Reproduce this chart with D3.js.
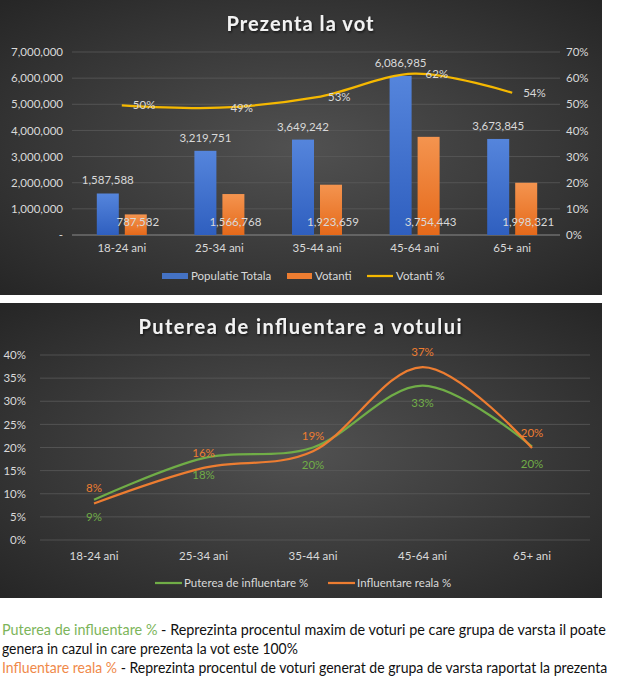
<!DOCTYPE html>
<html>
<head>
<meta charset="utf-8">
<script src="https://cdn.jsdelivr.net/npm/d3@7"></script>
<style>
  body { margin: 0; background: #fff; overflow: hidden; }
  svg { display: block; }
  svg text { font-family: Lato, "Open Sans", sans-serif; }
</style>
</head>
<body>
<div id="chart"></div>
<script>
// Date
const categories = ['18-24 ani', '25-34 ani', '35-44 ani', '45-64 ani', '65+ ani'];
const populatie = [1587588, 3219751, 3649242, 6086985, 3673845];
const votanti = [787582, 1566768, 1923659, 3754443, 1998321];
const votantiPct = [0.496, 0.487, 0.527, 0.617, 0.544];
const putereaPct = [0.087, 0.177, 0.200, 0.334, 0.202];
const realaPct = [0.079, 0.156, 0.192, 0.374, 0.199];
const leftTicks = [0, 1e6, 2e6, 3e6, 4e6, 5e6, 6e6, 7e6];
const rightTicks = [0, 0.1, 0.2, 0.3, 0.4, 0.5, 0.6, 0.7];
const bottomTicks = [0, 0.05, 0.1, 0.15, 0.2, 0.25, 0.3, 0.35, 0.4];

const W = 617, H = 683;
const svg = d3.select('#chart').append('svg')
    .attr('width', W)
    .attr('height', H);

const defs = svg.append('defs');

// Fundal inchis, mai luminos in centru
const bg = defs.append('radialGradient').attr('id', 'panel-bg')
    .attr('cx', '50%').attr('cy', '50%').attr('r', '70%');
bg.append('stop').attr('offset', '0%').attr('stop-color', '#515151');
bg.append('stop').attr('offset', '100%').attr('stop-color', '#262626');

// umbra discreta pentru titluri
const shadow = defs.append('filter').attr('id', 'title-shadow');
shadow.append('feDropShadow').attr('dx', 1).attr('dy', 1.5)
    .attr('stdDeviation', 1).attr('flood-color', '#000').attr('flood-opacity', 0.6);

function barGradient(id, c1, c2) {
  const g = defs.append('linearGradient').attr('id', id)
      .attr('x1', 0).attr('y1', 0).attr('x2', 0).attr('y2', 1);
  g.append('stop').attr('offset', '0%').attr('stop-color', c1);
  g.append('stop').attr('offset', '100%').attr('stop-color', c2);
}
barGradient('blue-grad', '#5585dc', '#2f5fbf');
barGradient('orange-grad', '#f4944f', '#e5691a');

const txtColor = '#d9d9d9';
const gridColor = '#5c5c5c';

// ---------------- Grafic 1: Prezenta la vot ----------------
const chart1 = svg.append('g');
chart1.append('rect')
    .attr('x', 0).attr('y', 0).attr('width', 602).attr('height', 295)
    .attr('fill', 'url(#panel-bg)');

chart1.append('text')
    .attr('x', 300).attr('y', 31)
    .attr('text-anchor', 'middle')
    .attr('font-size', 20).attr('font-weight', 'bold')
    .attr('fill', '#f2f2f2')
    .attr('filter', 'url(#title-shadow)')
    .attr('textLength', 147).attr('lengthAdjust', 'spacing')
    .text('Prezenta la vot');

const x = d3.scaleBand().domain(categories).range([73, 561]);
const y = d3.scaleLinear().domain([0, 7e6]).range([235, 52]);
const y2 = d3.scaleLinear().domain([0, 0.7]).range([235, 52]);

chart1.selectAll('.grid')
    .data(leftTicks)
  .join('line')
    .attr('class', 'grid')
    .attr('x1', 72).attr('x2', 560)
    .attr('y1', d => y(d)).attr('y2', d => y(d))
    .attr('stroke', d => d === 0 ? '#8a8a8a' : gridColor)
    .attr('stroke-width', d => d === 0 ? 1 : 0.75);

const yAxis = chart1.append('g')
    .attr('transform', 'translate(66,0)')
    .call(d3.axisLeft(y).tickValues(leftTicks).tickSize(0)
      .tickFormat(d => d === 0 ? '-' : d3.format(',')(d)));
yAxis.select('.domain').remove();
yAxis.selectAll('text').attr('fill', txtColor).attr('font-size', 11.5)
    .attr('font-family', 'Lato, sans-serif');

const y2Axis = chart1.append('g')
    .attr('transform', 'translate(563,0)')
    .call(d3.axisRight(y2).tickValues(rightTicks).tickSize(0)
      .tickFormat(d3.format('.0%')));
y2Axis.select('.domain').remove();
y2Axis.selectAll('text').attr('fill', txtColor).attr('font-size', 11.5)
    .attr('font-family', 'Lato, sans-serif');

const xAxis = chart1.append('g')
    .attr('transform', 'translate(0,241)')
    .call(d3.axisBottom(x).tickSize(0));
xAxis.select('.domain').remove();
xAxis.selectAll('text').attr('fill', txtColor).attr('font-size', 11.5)
    .attr('font-family', 'Lato, sans-serif');

const barW = 22, gap = 3;
const mid = c => x(c) + x.bandwidth() / 2;

chart1.selectAll('.bar-pop')
    .data(categories)
  .join('rect')
    .attr('class', 'bar-pop')
    .attr('x', c => mid(c) - gap - barW)
    .attr('width', barW)
    .attr('y', (c, i) => y(populatie[i]))
    .attr('height', (c, i) => y(0) - y(populatie[i]))
    .attr('fill', 'url(#blue-grad)');

chart1.selectAll('.bar-vot')
    .data(categories)
  .join('rect')
    .attr('class', 'bar-vot')
    .attr('x', c => mid(c) + gap)
    .attr('width', barW)
    .attr('y', (c, i) => y(votanti[i]))
    .attr('height', (c, i) => y(0) - y(votanti[i]))
    .attr('fill', 'url(#orange-grad)');

const fmtNum = d3.format(',');
chart1.selectAll('.lbl-pop')
    .data(categories)
  .join('text')
    .attr('class', 'lbl-pop')
    .attr('x', c => mid(c) - gap - barW / 2)
    .attr('y', (c, i) => y(populatie[i]) - 9)
    .attr('text-anchor', 'middle')
    .attr('font-size', 11.5).attr('fill', txtColor)
    .text((c, i) => fmtNum(populatie[i]));

chart1.selectAll('.lbl-vot')
    .data(categories)
  .join('text')
    .attr('class', 'lbl-vot')
    .attr('x', c => mid(c) + gap + barW / 2 + 2)
    .attr('y', 226)
    .attr('text-anchor', 'middle')
    .attr('font-size', 11.5).attr('fill', txtColor)
    .text((c, i) => fmtNum(votanti[i]));

const pctLine = d3.line()
    .x((d, i) => mid(categories[i]))
    .y(d => y2(d))
    .curve(d3.curveCardinal.tension(0));

chart1.append('path')
    .attr('d', pctLine(votantiPct))
    .attr('fill', 'none')
    .attr('stroke', '#f5b800')
    .attr('stroke-width', 2.25);

chart1.selectAll('.lbl-pct')
    .data(votantiPct)
  .join('text')
    .attr('class', 'lbl-pct')
    .attr('x', (d, i) => mid(categories[i]) + 11)
    .attr('y', d => y2(d) + 4)
    .attr('font-size', 11.5).attr('fill', txtColor)
    .text(d => d3.format('.0%')(d));

// legenda grafic 1
const lg1 = chart1.append('g').attr('font-size', 11.5).attr('fill', txtColor);
lg1.append('rect').attr('x', 162).attr('y', 273).attr('width', 26).attr('height', 6)
    .attr('fill', '#4472c4');
lg1.append('text').attr('x', 191).attr('y', 280).attr('fill', txtColor).text('Populatie Totala');
lg1.append('rect').attr('x', 287).attr('y', 273).attr('width', 25).attr('height', 6)
    .attr('fill', '#ed7d31');
lg1.append('text').attr('x', 315).attr('y', 280).attr('fill', txtColor).text('Votanti');
lg1.append('line').attr('x1', 367).attr('x2', 393).attr('y1', 276).attr('y2', 276)
    .attr('stroke', '#f5b800').attr('stroke-width', 2.25);
lg1.append('text').attr('x', 396).attr('y', 280).attr('fill', txtColor).text('Votanti %');

// ---------------- Grafic 2: Puterea de influentare ----------------
const chart2 = svg.append('g');
chart2.append('rect')
    .attr('x', 0).attr('y', 303).attr('width', 602).attr('height', 295)
    .attr('fill', 'url(#panel-bg)');

chart2.append('text')
    .attr('x', 300).attr('y', 334)
    .attr('text-anchor', 'middle')
    .attr('font-size', 20).attr('font-weight', 'bold')
    .attr('fill', '#f2f2f2')
    .attr('filter', 'url(#title-shadow)')
    .attr('textLength', 323).attr('lengthAdjust', 'spacing')
    .text('Puterea de influentare a votului');

const xb = d3.scaleBand().domain(categories).range([39.25, 586.75]);
const yb = d3.scaleLinear().domain([0, 0.4]).range([540, 355]);
const midb = c => xb(c) + xb.bandwidth() / 2;

chart2.selectAll('.grid')
    .data(bottomTicks)
  .join('line')
    .attr('class', 'grid')
    .attr('x1', 40).attr('x2', 590)
    .attr('y1', d => yb(d)).attr('y2', d => yb(d))
    .attr('stroke', gridColor)
    .attr('stroke-width', 0.75);

const ybAxis = chart2.append('g')
    .attr('transform', 'translate(29,0)')
    .call(d3.axisLeft(yb).tickValues(bottomTicks).tickSize(0)
      .tickFormat(d3.format('.0%')));
ybAxis.select('.domain').remove();
ybAxis.selectAll('text').attr('fill', txtColor).attr('font-size', 11.5)
    .attr('font-family', 'Lato, sans-serif');

const xbAxis = chart2.append('g')
    .attr('transform', 'translate(0,549)')
    .call(d3.axisBottom(xb).tickSize(0));
xbAxis.select('.domain').remove();
xbAxis.selectAll('text').attr('fill', txtColor).attr('font-size', 11.5)
    .attr('font-family', 'Lato, sans-serif');

const lineB = d3.line()
    .x((d, i) => midb(categories[i]))
    .y(d => yb(d))
    .curve(d3.curveCardinal.tension(0));

const green = '#70ad47', orange = '#ed7d31';

chart2.append('path')
    .attr('d', lineB(putereaPct))
    .attr('fill', 'none').attr('stroke', green).attr('stroke-width', 2.25);
chart2.append('path')
    .attr('d', lineB(realaPct))
    .attr('fill', 'none').attr('stroke', orange).attr('stroke-width', 2.25);

chart2.selectAll('.lbl-g')
    .data(putereaPct)
  .join('text')
    .attr('class', 'lbl-g')
    .attr('x', (d, i) => midb(categories[i]))
    .attr('y', d => yb(d) + 21)
    .attr('text-anchor', 'middle')
    .attr('font-size', 11.5).attr('fill', green)
    .text(d => d3.format('.0%')(d));

chart2.selectAll('.lbl-o')
    .data(realaPct)
  .join('text')
    .attr('class', 'lbl-o')
    .attr('x', (d, i) => midb(categories[i]))
    .attr('y', d => yb(d) - 11)
    .attr('text-anchor', 'middle')
    .attr('font-size', 11.5).attr('fill', orange)
    .text(d => d3.format('.0%')(d));

// legenda grafic 2
const lg2 = chart2.append('g').attr('font-size', 11.5);
lg2.append('line').attr('x1', 155).attr('x2', 182).attr('y1', 583).attr('y2', 583)
    .attr('stroke', green).attr('stroke-width', 2.25);
lg2.append('text').attr('x', 184).attr('y', 587).attr('fill', txtColor)
    .text('Puterea de influentare %');
lg2.append('line').attr('x1', 328).attr('x2', 355).attr('y1', 583).attr('y2', 583)
    .attr('stroke', orange).attr('stroke-width', 2.25);
lg2.append('text').attr('x', 357).attr('y', 587).attr('fill', txtColor)
    .text('Influentare reala %');

// ---------------- Note explicative ----------------
// fontul original e ingust (Calibri), asa ca fiecare rand e comprimat pe orizontala
const notes = svg.append('g').attr('font-size', 14.5);

function noteLine(yPos, width, parts) {
  const t = notes.append('text').attr('x', 0).attr('y', 0);
  parts.forEach(p => t.append('tspan').attr('fill', p.color).text(p.text));
  const k = width / t.node().getComputedTextLength();
  t.attr('transform', `translate(2,${yPos}) scale(${k},1)`);
}

noteLine(635, 604, [
  {color: '#7cb55a', text: 'Puterea de influentare %'},
  {color: '#111', text: ' - Reprezinta procentul maxim de voturi pe care grupa de varsta il poate'}
]);
noteLine(654, 296, [
  {color: '#111', text: 'genera in cazul in care prezenta la vot este 100%'}
]);
noteLine(673, 606, [
  {color: '#f0894a', text: 'Influentare reala %'},
  {color: '#111', text: ' - Reprezinta procentul de voturi generat de grupa de varsta raportat la prezenta'}
]);
</script>
</body>
</html>
